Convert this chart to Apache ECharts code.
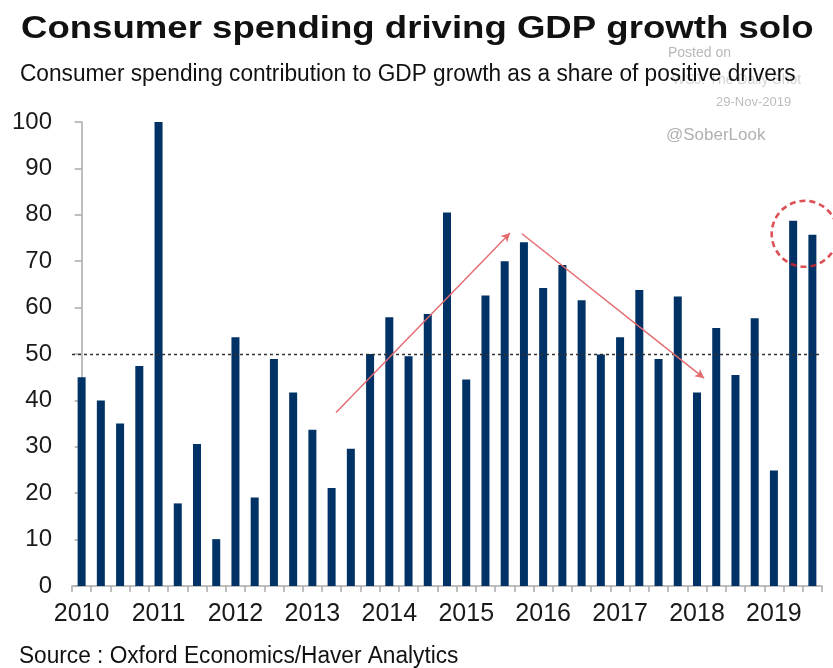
<!DOCTYPE html>
<html>
<head>
<meta charset="utf-8">
<script src="https://cdn.jsdelivr.net/npm/echarts@6/dist/echarts.min.js"></script>
<style>
html,body{margin:0;padding:0;background:#fff;}
#c{width:833px;height:668px;}
</style>
</head>
<body>
<div id="c"></div>
<script>
// Quarterly categories 2010Q1 .. 2019Q3
var categories = [
  "2010Q1","2010Q2","2010Q3","2010Q4",
  "2011Q1","2011Q2","2011Q3","2011Q4",
  "2012Q1","2012Q2","2012Q3","2012Q4",
  "2013Q1","2013Q2","2013Q3","2013Q4",
  "2014Q1","2014Q2","2014Q3","2014Q4",
  "2015Q1","2015Q2","2015Q3","2015Q4",
  "2016Q1","2016Q2","2016Q3","2016Q4",
  "2017Q1","2017Q2","2017Q3","2017Q4",
  "2018Q1","2018Q2","2018Q3","2018Q4",
  "2019Q1","2019Q2","2019Q3"
];
// Consumer spending contribution as share of positive drivers (%)
var shareValues = [
  45, 40, 35, 47.4,
  100, 17.8, 30.6, 10.1,
  53.6, 19.1, 48.9, 41.7,
  33.7, 21.1, 29.6, 50,
  57.9, 49.5, 58.6, 80.5,
  44.5, 62.6, 70, 74.1,
  64.2, 69.2, 61.6, 49.9,
  53.6, 63.8, 48.9, 62.4,
  41.7, 55.6, 45.5, 57.7,
  24.9, 78.7, 75.7
];
var yTicks = [0, 10, 20, 30, 40, 50, 60, 70, 80, 90, 100];
var referenceLevel = 50;
// Annotation arrows in data space: [categoryIndex, value]
var arrowUp = [[13.23, 37.4], [22.28, 76.1]];
var arrowDown = [[22.9, 75.9], [32.37, 44.8]];
var circleCenter = [37.6, 75.9];

var FONT = '"Liberation Sans", Arial, Helvetica, sans-serif';
var chart = echarts.init(document.getElementById('c'), null, {renderer: 'canvas'});
var option = {
  backgroundColor: '#ffffff',
  animation: false,
  grid: {left: 72, right: 11, top: 122, bottom: 82},
  graphic: [
    {type: 'text', x: 21, y: 29, scaleX: 1.18,
     style: {text: 'Consumer spending driving GDP growth solo', font: 'bold 31px ' + FONT, fill: '#111', textVerticalAlign: 'middle'}},
    {type: 'text', x: 668, y: 53, z: 1,
     style: {text: 'Posted on', font: '14px ' + FONT, fill: '#b8b8b8', textVerticalAlign: 'middle'}},
    {type: 'text', x: 672, y: 80, z: 1,
     style: {text: 'WSJ: The Daily Shot', font: '14px ' + FONT, fill: '#d4d4d4', textVerticalAlign: 'middle'}},
    {type: 'text', x: 20, y: 75, scaleX: 0.985, z: 5,
     style: {text: 'Consumer spending contribution to GDP growth as a share of positive drivers', font: '23px ' + FONT, fill: '#111', textVerticalAlign: 'middle'}},
    {type: 'text', x: 716, y: 102,
     style: {text: '29-Nov-2019', font: '13px ' + FONT, fill: '#bdbdbd', textVerticalAlign: 'middle'}},
    {type: 'text', x: 666, y: 135,
     style: {text: '@SoberLook', font: '17px ' + FONT, fill: '#b0b0b0', textVerticalAlign: 'middle'}},
    {type: 'text', x: 19, y: 657, scaleX: 0.985,
     style: {text: 'Source : Oxford Economics/Haver Analytics', font: '23px ' + FONT, fill: '#111', textVerticalAlign: 'middle'}}
  ],
  xAxis: [
    {
      type: 'category',
      data: categories,
      boundaryGap: true,
      axisLine: {show: true, lineStyle: {color: '#aaaaaa', width: 1.5}},
      axisTick: {show: true, interval: 0, length: 6, lineStyle: {color: '#aaaaaa', width: 1.5}},
      axisLabel: {
        interval: function (i) { return i % 4 === 0; },
        formatter: function (v) { return v.slice(0, 4); },
        fontFamily: FONT,
        fontSize: 25,
        color: '#1a1a1a',
        margin: 16
      },
      splitLine: {show: false}
    },
    {
      type: 'value', min: -0.5, max: 38.5, show: false
    }
  ],
  yAxis: {
    type: 'value',
    min: 0, max: 100, interval: 10,
    axisLine: {show: true, lineStyle: {color: '#aaaaaa', width: 1.5}},
    axisTick: {show: true, length: 7, lineStyle: {color: '#aaaaaa', width: 1.5}},
    axisLabel: {
      fontFamily: FONT,
      fontSize: 24,
      color: '#1a1a1a',
      margin: 20,
      formatter: function (v) { return yTicks.indexOf(v) >= 0 ? String(v) : ''; }
    },
    splitLine: {show: false}
  },
  series: [
    {
      type: 'bar',
      data: shareValues,
      barWidth: 8,
      itemStyle: {color: '#003266'},
      markLine: {
        silent: true,
        symbol: ['none', 'none'],
        label: {show: false},
        lineStyle: {color: '#333333', type: [3, 3], width: 1.3},
        data: [{yAxis: referenceLevel}]
      },
      z: 2
    },
    {
      type: 'line',
      xAxisIndex: 1,
      data: [],
      markLine: {
        silent: true,
        symbol: ['none', 'arrow'],
        symbolSize: [7, 9],
        label: {show: false},
        lineStyle: {color: '#e46a6e', type: 'solid', width: 1.4},
        data: [
          [{coord: arrowUp[0]}, {coord: arrowUp[1]}],
          [{coord: arrowDown[0]}, {coord: arrowDown[1]}]
        ]
      },
      z: 3
    },
    {
      type: 'scatter',
      xAxisIndex: 1,
      clip: false,
      data: [circleCenter],
      symbol: 'circle',
      symbolSize: 66,
      itemStyle: {color: 'rgba(0,0,0,0)', borderColor: '#d3242c', borderWidth: 2.6, borderType: [6, 4]},
      z: 4
    }
  ]
};
chart.setOption(option);
</script>
</body>
</html>
